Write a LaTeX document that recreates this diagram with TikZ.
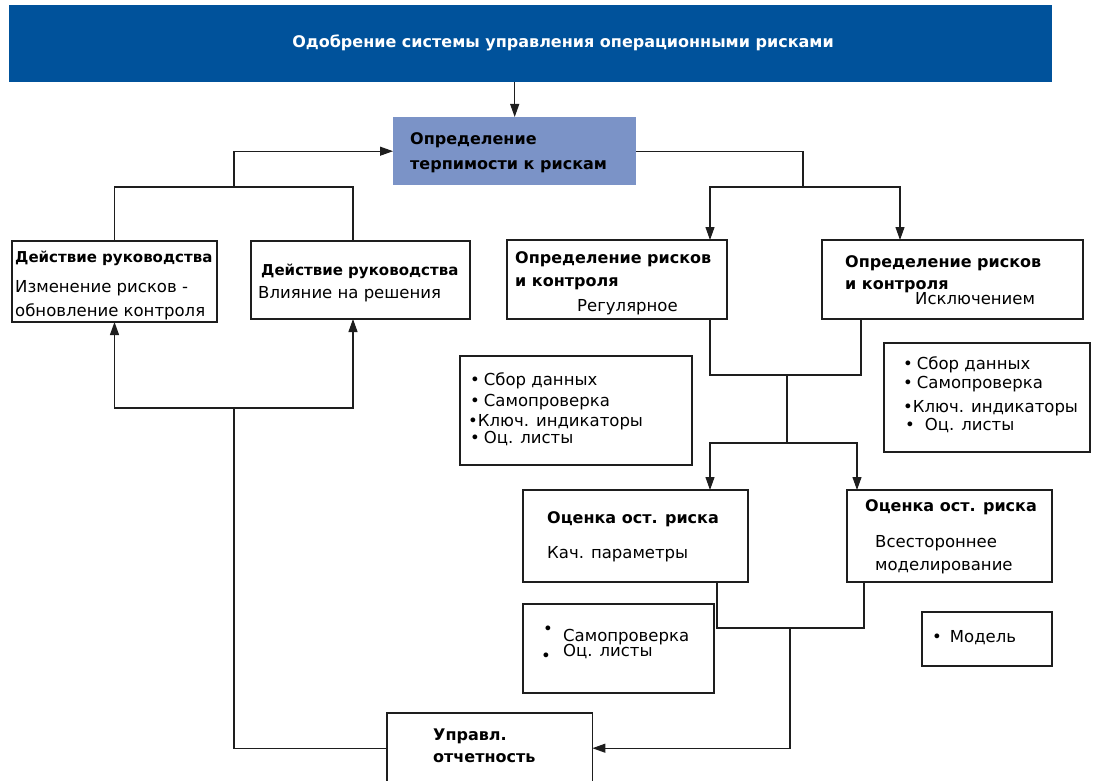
\documentclass[tikz,border=0pt]{standalone}
\usepackage{fontspec}
\setmainfont{DejaVu Sans}
\usetikzlibrary{arrows.meta,calc}
\definecolor{banblue}{RGB}{0,82,155}
\definecolor{tolblue}{RGB}{123,147,199}
\definecolor{ln}{RGB}{30,30,30}
\tikzset{
  box/.style={draw=ln,line width=1.1pt,fill=white,anchor=north west,inner sep=0pt,outer sep=0pt},
  conn/.style={draw=ln,line width=1.1pt},
  arr/.style={conn,-{Triangle[length=13pt,width=9pt]}},
  txt/.style={anchor=base west,inner sep=0pt,font=\fontsize{16.5}{19}\selectfont},
  btxt/.style={txt,font=\fontsize{16}{19}\selectfont\bfseries},
  bstxt/.style={txt,font=\fontsize{15}{18}\selectfont\bfseries},
}
\begin{document}
\begin{tikzpicture}[x=1pt,y=-1pt]
\useasboundingbox (0,0) rectangle (1109,781);
% banner
\node[anchor=north west,fill=banblue,minimum width=1043pt,minimum height=77pt,inner sep=0pt] (ban) at (9,5) {};
\node[text=white,font=\fontsize{16}{19}\selectfont\bfseries,inner sep=0pt] (bant) at (563,43) {Одобрение системы управления операционными рисками};
% tolerance
\node[anchor=north west,fill=tolblue,minimum width=243pt,minimum height=68pt,inner sep=0pt] (tol) at (393,117) {};
\node[btxt] (tol1) at (410,145) {Определение};
\node[btxt] (tol2) at (410,170) {терпимости к рискам};
% management action boxes
\node[box,minimum width=205pt,minimum height=81pt] (b1) at (12,241) {};
\node[bstxt] (b1a) at (15,262) {Действие руководства};
\node[txt] (b1b) at (15,292) {Изменение рисков -};
\node[txt] (b1c) at (15,316) {обновление контроля};
\node[box,minimum width=219pt,minimum height=78pt] (b2) at (251,241) {};
\node[bstxt] (b2a) at (261,275) {Действие руководства};
\node[txt] (b2b) at (258,298) {Влияние на решения};
% identification boxes
\node[box,minimum width=220pt,minimum height=79pt] (b3) at (507,240) {};
\node[btxt] (b3a) at (515,263) {Определение рисков};
\node[btxt] (b3b) at (515,286) {и контроля};
\node[txt] (b3c) at (577,311) {Регулярное};
\node[box,minimum width=261pt,minimum height=79pt] (b4) at (822,240) {};
\node[btxt] (b4a) at (845,267) {Определение рисков};
\node[btxt] (b4b) at (845,289) {и контроля};
\node[txt] (b4c) at (915,304) {Исключением};
% bullet box A
\node[box,minimum width=232pt,minimum height=109pt] (ba) at (460,356) {};
\node[txt] (ba1) at (470,385) {•\hspace{4pt}Сбор данных};
\node[txt] (ba2) at (470,406) {•\hspace{4pt}Самопроверка};
\node[txt] (ba3) at (468,426) {•Ключ. индикаторы};
\node[txt] (ba4) at (470,443) {•\hspace{4pt}Оц. листы};
% bullet box B
\node[box,minimum width=206pt,minimum height=109pt] (bb) at (884,343) {};
\node[txt] (bb1) at (903,369) {•\hspace{4pt}Сбор данных};
\node[txt] (bb2) at (903,388) {•\hspace{4pt}Самопроверка};
\node[txt] (bb3) at (903,412) {•Ключ. индикаторы};
\node[txt] (bb4) at (905,430) {•\hspace{10pt}Оц. листы};
% assessment boxes
\node[box,minimum width=225pt,minimum height=92pt] (b5) at (523,490) {};
\node[btxt] (b5a) at (547,523) {Оценка ост. риска};
\node[txt] (b5b) at (547,558) {Кач. параметры};
\node[box,minimum width=205pt,minimum height=92pt] (b6) at (847,490) {};
\node[btxt] (b6a) at (865,511) {Оценка ост. риска};
\node[txt] (b6b) at (875,547) {Всестороннее};
\node[txt] (b6c) at (875,570) {моделирование};
% bullet box C
\node[box,minimum width=191pt,minimum height=89pt] (bc) at (523,604) {};
\node[txt] (bc1) at (543,634) {•};
\node[txt] (bc2) at (541,661) {•};
\node[txt] (bc3) at (563,641) {Самопроверка};
\node[txt] (bc4) at (563,656) {Оц. листы};
% model box
\node[box,minimum width=130pt,minimum height=54pt] (bm) at (922,612) {};
\node[txt] (bm1) at (932,642) {•\hspace{8pt}Модель};
% reporting box (open at bottom)
\node[anchor=north west,minimum width=205pt,minimum height=70pt,inner sep=0pt] (up) at (387,713) {};
\draw[conn] (up.south west) -- (up.north west) -- (up.north east) -- (up.south east);
\node[btxt] (up1) at (433,740) {Управл.};
\node[btxt] (up2) at (433,762) {отчетность};
% junctions
\coordinate (jL) at (234,187);
\coordinate (jR) at (803,187);
\coordinate (j2) at (787,375);
\coordinate (j3) at (787,443);
\coordinate (j4) at (790,628);
\coordinate (j5) at (234,408);
% connectors
\draw[arr] (tol.north |- ban.south) -- (tol.north);
\draw[arr] (jL) |- (tol.west);
\draw[conn] (b1.north) |- (jL) -| ([xshift=102pt]b2.north west);
\draw[conn] (tol.east) -| (jR);
\draw[arr] (jR) -| ([xshift=203pt]b3.north west);
\draw[arr] (jR) -| ([xshift=78pt]b4.north west);
\draw[conn] ([xshift=203pt]b3.south west) |- (j2) -| ([xshift=39pt]b4.south west);
\draw[conn] (j2) -- (j3);
\draw[arr] (j3) -| ([xshift=187pt]b5.north west);
\draw[arr] (j3) -| ([xshift=10pt]b6.north west);
\draw[conn] ([xshift=194pt]b5.south west) |- (j4) -| ([xshift=17pt]b6.south west);
\draw[arr] (j4) |- (up.east);
\draw[conn] (up.west) -| (j5);
\draw[arr] (j5) -| (b1.south);
\draw[arr] (j5) -| ([xshift=102pt]b2.south west);
\end{tikzpicture}
\end{document}
